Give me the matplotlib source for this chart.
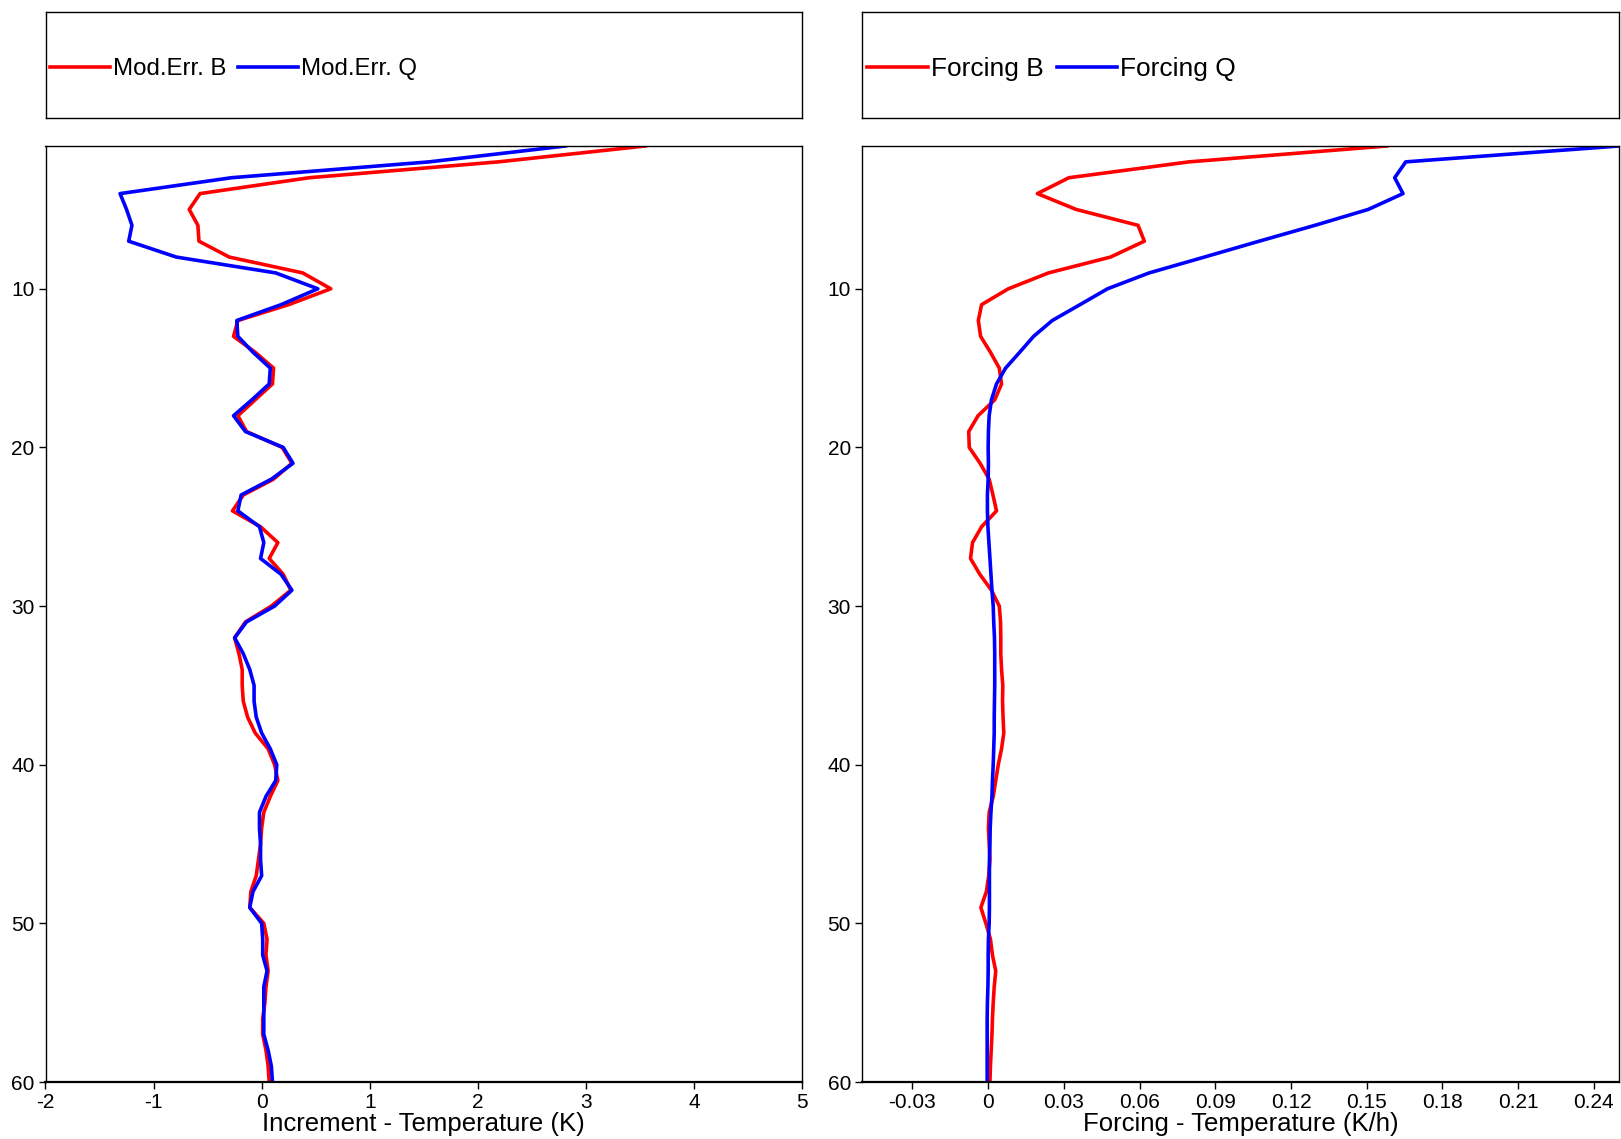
import numpy as np
import matplotlib
matplotlib.use("Agg")
import matplotlib.pyplot as plt
from matplotlib.lines import Line2D

plt.rcParams['font.family'] = ['Liberation Sans', 'DejaVu Sans']

levels = np.arange(1, 61)

# increment (K), left panel
mod_err_b = [3.55, 2.19, 0.44, -0.57, -0.67, -0.59, -0.58, -0.30, 0.38, 0.64,
             0.25, -0.22, -0.26, -0.06, 0.11, 0.10, -0.06, -0.22, -0.14, 0.19,
             0.28, 0.11, -0.17, -0.27, -0.01, 0.15, 0.07, 0.20, 0.27, 0.09,
             -0.15, -0.25, -0.21, -0.18, -0.18, -0.17, -0.13, -0.06, 0.06, 0.12,
             0.15, 0.08, 0.02, 0.00, -0.01, -0.03, -0.05, -0.10, -0.11, 0.02,
             0.05, 0.04, 0.06, 0.04, 0.03, 0.01, 0.01, 0.04, 0.06, 0.07]
mod_err_q = [2.81, 1.55, -0.28, -1.31, -1.25, -1.20, -1.23, -0.79, 0.13, 0.52,
             0.18, -0.23, -0.22, -0.08, 0.08, 0.07, -0.09, -0.26, -0.15, 0.20,
             0.29, 0.09, -0.19, -0.22, -0.02, 0.02, -0.01, 0.18, 0.28, 0.12,
             -0.14, -0.25, -0.17, -0.11, -0.07, -0.07, -0.05, 0.00, 0.08, 0.14,
             0.13, 0.04, -0.02, -0.02, -0.01, -0.01, 0.00, -0.08, -0.11, 0.00,
             0.01, 0.01, 0.05, 0.02, 0.02, 0.02, 0.02, 0.06, 0.09, 0.10]

# forcing (K/h), right panel
forcing_b = [0.158, 0.0796, 0.032, 0.0195, 0.0349, 0.0594, 0.0619, 0.0485, 0.0239, 0.0080,
             -0.0026, -0.0039, -0.0030, 0.0009, 0.0044, 0.0053, 0.0026, -0.0040, -0.0077, -0.0075,
             -0.0032, 0.0004, 0.0019, 0.0033, -0.0026, -0.0062, -0.0070, -0.0033, 0.0013, 0.0044,
             0.0049, 0.0050, 0.0050, 0.0053, 0.0058, 0.0057, 0.0059, 0.0062, 0.0053, 0.0040,
             0.0030, 0.0020, 0.0004, 0.0001, 0.0004, 0.0007, 0.0002, -0.0007, -0.0029, -0.0009,
             0.0009, 0.0017, 0.0030, 0.0024, 0.0020, 0.0017, 0.0015, 0.0012, 0.0009, 0.0007]
forcing_q = [0.25, 0.1655, 0.1611, 0.1644, 0.1506, 0.1295, 0.1074, 0.0857, 0.0638, 0.0473,
             0.0364, 0.0254, 0.0180, 0.0125, 0.0069, 0.0033, 0.0013, 0.0004, 0.0001, 0.0,
             0.0001, 0.0, -0.0003, -0.0003, -0.0001, 0.0003, 0.0007, 0.0011, 0.0015, 0.0020,
             0.0022, 0.0025, 0.0026, 0.0026, 0.0026, 0.0025, 0.0024, 0.0024, 0.0022, 0.0020,
             0.0017, 0.0015, 0.0011, 0.0008, 0.0007, 0.0005, 0.0005, 0.0005, 0.0005, 0.0004,
             0.0001, 0.0, 0.0, -0.0001, -0.0003, -0.0004, -0.0004, -0.0004, -0.0004, -0.0004]

left_xticks = [-2, -1, 0, 1, 2, 3, 4, 5]
right_xticks = [-0.03, 0, 0.03, 0.06, 0.09, 0.12, 0.15, 0.18, 0.21, 0.24]
right_xticklabels = ["-0.03", "0", "0.03", "0.06", "0.09", "0.12", "0.15", "0.18", "0.21", "0.24"]
yticks = [10, 20, 30, 40, 50, 60]

fig = plt.figure(figsize=(16.21, 11.39), dpi=100)

W, H = 1621, 1139
def box(x0, y0, x1, y1):
    return [x0 / W, 1 - y1 / H, (x1 - x0) / W, (y1 - y0) / H]

ax1 = fig.add_axes(box(45.5, 146, 802, 1082))
ax2 = fig.add_axes(box(862, 146, 1619, 1082))
leg1 = fig.add_axes(box(45.5, 11.5, 802, 118))
leg2 = fig.add_axes(box(862, 11.5, 1619, 118))

lw = 2.6
ax1.plot(mod_err_b, levels, color='#ff0000', lw=lw)
ax1.plot(mod_err_q, levels, color='#0000ff', lw=lw)
ax2.plot(forcing_b, levels, color='#ff0000', lw=lw)
ax2.plot(forcing_q, levels, color='#0000ff', lw=lw)

ax1.set_xlim(-2, 5)
ax1.set_xticks(left_xticks)
ax1.set_xticklabels([str(t) for t in left_xticks])
ax1.set_xlabel("Increment - Temperature (K)", fontsize=18.5, labelpad=0)

ax2.set_xlim(-0.05, 0.25)
ax2.set_xticks(right_xticks)
ax2.set_xticklabels(right_xticklabels)
ax2.set_xlabel("Forcing - Temperature (K/h)", fontsize=18.5, labelpad=0)

for ax in (ax1, ax2):
    ax.set_ylim(60, 1)
    ax.set_yticks(yticks)
    ax.tick_params(axis='both', labelsize=15, length=5, width=1, direction='out', pad=3)
    for s in ax.spines.values():
        s.set_linewidth(1.0)
    ax.spines['bottom'].set_linewidth(1.6)

for lax in (leg1, leg2):
    lax.set_xticks([])
    lax.set_yticks([])
    for s in lax.spines.values():
        s.set_linewidth(1.0)

h1 = [Line2D([], [], color='#ff0000', lw=lw), Line2D([], [], color='#0000ff', lw=lw)]
leg1.legend(h1, ["Mod.Err. B", "Mod.Err. Q"], loc='center left', bbox_to_anchor=(0, 0.46),
            ncol=2, frameon=False, fontsize=17.3, handlelength=2.5, handletextpad=0.1,
            columnspacing=0.5, borderaxespad=0.0, borderpad=0.2)
leg2.legend(h1, ["Forcing B", "Forcing Q"], loc='center left', bbox_to_anchor=(0, 0.46),
            ncol=2, frameon=False, fontsize=19, handlelength=2.3, handletextpad=0.1,
            columnspacing=0.5, borderaxespad=0.0, borderpad=0.2)

fig.savefig("out.png", dpi=100)
